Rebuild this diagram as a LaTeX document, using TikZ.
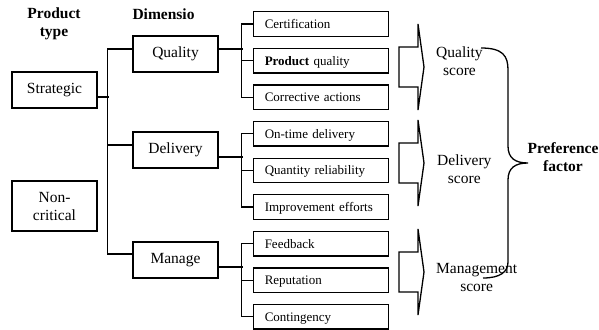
\documentclass[tikz,border=0pt]{standalone}
\usepackage{fontspec}
\setmainfont{Liberation Serif}
\usepackage{tikz}
\tikzset{mainbox/.style={draw, line width=1.3pt, minimum width=85pt, minimum height=36pt, inner sep=0pt, align=center, font=\fontsize{15.5}{18}\selectfont},
  subbox/.style={draw, line width=1.3pt, minimum height=24.5pt, text width=112.5pt, inner xsep=11pt, inner ysep=0pt, text height=9pt, text depth=0pt, align=left, font=\fontsize{13}{15}\selectfont},
  head/.style={font=\fontsize{15.5}{18}\selectfont\bfseries, align=center, inner sep=0pt},
  score/.style={font=\fontsize{15.5}{18}\selectfont, align=center, inner sep=0pt, anchor=west},
  conn/.style={line width=1.3pt}}

\begin{document}
\begin{tikzpicture}[x=1pt, y=-1pt]
  \useasboundingbox (0,0) rectangle (599,329);
  \node [head] (pt) at (54,23.5) {Product\\type};
  \node [head] (dm) at (163.5,14) {Dimensio};
  \node [mainbox] (st) at (54.5,90) {Strategic};
  \node [mainbox, minimum height=50pt] (nc) at (54.5,206) {Non-\\critical};
  \node [mainbox] (q) at (175.5,54) {Quality};
  \node [mainbox] (d) at (175.5,150) {Delivery};
  \node [mainbox] (m) at (175.5,260) {Manage};
    \foreach \txt [count=\i] in {Certification, \textbf{Product} quality, Corrective actions, On-time delivery, Quantity reliability, Improvement efforts, Feedback, Reputation, Contingency} {
      \node [subbox] (s\i) at (321, {24+(\i-1)*36.6}) {\txt};
    }
  \draw [conn] ([yshift=-7pt]st.east) -- ++(11,0);
  \draw [conn] ([yshift=5pt]q.west) -- ++(-25,0) |- ([yshift=6pt]m.west);
  \draw [conn] ([yshift=5pt]d.west) -- ++(-25,0);
    \foreach \b/\sh/\f/\n/\l in {q/5/1/2/3, d/-7/4/5/6, m/-7/7/8/9} {
      \draw [conn] ([yshift=\sh pt]\b.east) -- ++(24,0);
      \draw [conn] (s\f.west) -- ++(-11.5,0) |- (s\l.west);
      \draw [conn] (s\n.west) -- ++(-11.5,0);
    }
    \foreach \c [count=\i] in {67,163,272} {
      \coordinate (a\i) at (399,\c);
      \draw [conn, line join=miter] (a\i) ++(0,-20) -- ++(19,0) -- ++(0,-23) -- ++(6,43) -- ++(-6,43) -- ++(0,-23) -- ++(-19,0) -- cycle;
    }
  \node [score] (qs) at (436,61) {Quality\\score};
  \node [score] (ds) at (437,169) {Delivery\\score};
  \node [score] (ms) at (436,277.5) {Management\\score};
  \node [head] (pf) at (563,157) {Preference\\factor};
  \coordinate (bt) at (481,48);
  \coordinate (tip) at (528,163);
  \coordinate (bb) at (483,278);
  \draw [line width=1.3pt] (bt) .. controls (503,48) and (508,56) .. (508,70) -- (508,146) .. controls (508,158) and (515,163) .. (tip) .. controls (515,163) and (508,168) .. (508,180) -- (508,262) .. controls (508,272) and (500,278) .. (bb);
\end{tikzpicture}
\end{document}
